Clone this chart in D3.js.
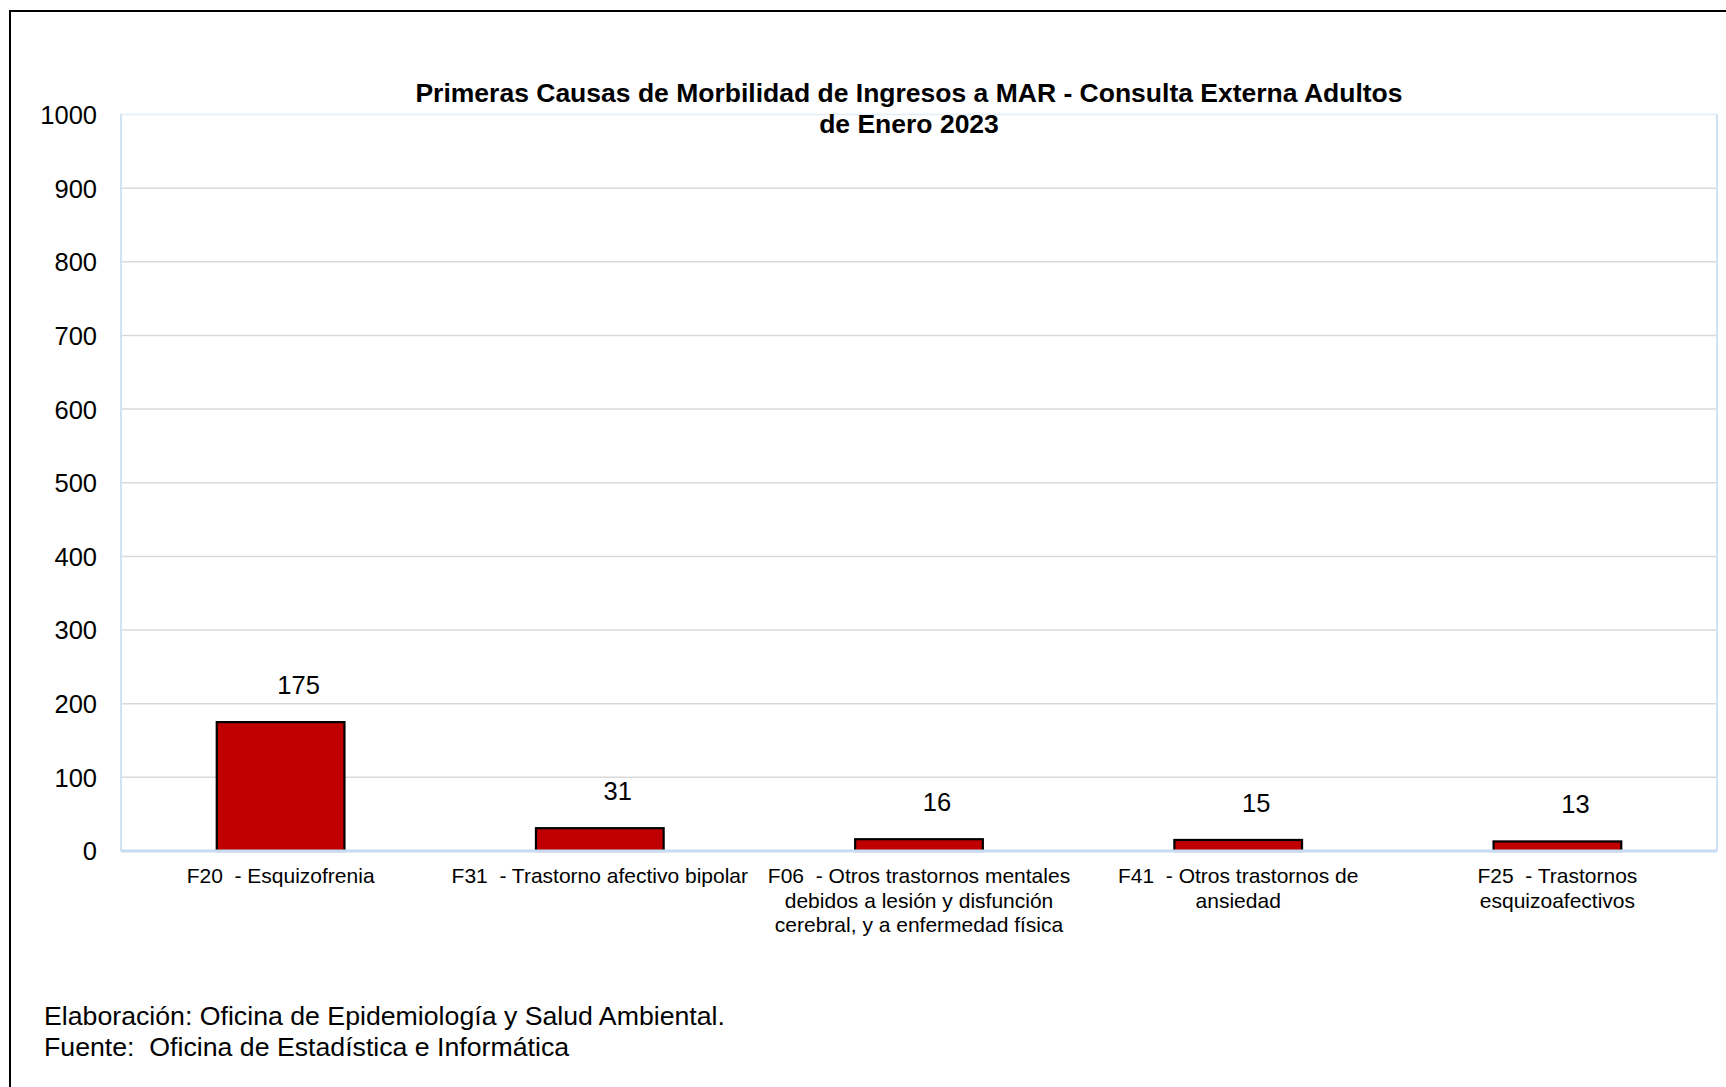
<!DOCTYPE html>
<html>
<head>
<meta charset="utf-8">
<script src="https://cdn.jsdelivr.net/npm/d3@7"></script>
<style>
  body { margin: 0; background: #fff; }
  text { font-family: "Liberation Sans", Arial, sans-serif; fill: #000; white-space: pre; }
</style>
</head>
<body>
<div id="chart-area"></div>
<script>
const W = 1726, H = 1087;
const margin = {top: 114.5, right: 9, bottom: 236, left: 121};

// data
const codes = ["F20", "F31", "F06", "F41", "F25"];
const labelLines = [
  ["F20  - Esquizofrenia"],
  ["F31  - Trastorno afectivo bipolar"],
  ["F06  - Otros trastornos mentales", "debidos a lesión y disfunción", "cerebral, y a enfermedad física"],
  ["F41  - Otros trastornos de", "ansiedad"],
  ["F25  - Trastornos", "esquizoafectivos"]
];
const values = [175, 31, 16, 15, 13];
const yTicks = [0, 100, 200, 300, 400, 500, 600, 700, 800, 900, 1000];
const titleLines = ["Primeras Causas de Morbilidad de Ingresos a MAR - Consulta Externa Adultos", "de Enero 2023"];
const footerLines = ["Elaboración: Oficina de Epidemiología y Salud Ambiental.", "Fuente:  Oficina de Estadística e Informática"];

var width = W - margin.left - margin.right;
var height = H - margin.top - margin.bottom;

var svg = d3.select("#chart-area").append("svg")
    .attr("width", W)
    .attr("height", H);

// outer frame (only left and top visible)
svg.append("path")
    .attr("d", "M10," + (H + 5) + " L10,11 L" + (W + 5) + ",11")
    .attr("fill", "none")
    .attr("stroke", "#000")
    .attr("stroke-width", 2);

var g = svg.append("g")
    .attr("transform", "translate(" + margin.left + "," + margin.top + ")");

var x = d3.scaleBand()
    .domain(codes)
    .range([0, width])
    .padding(0);

var y = d3.scaleLinear()
    .domain([0, 1000])
    .range([height, 0]);

// plot area border
g.append("rect")
    .attr("x", 0).attr("y", 0)
    .attr("width", width).attr("height", height)
    .attr("fill", "none")
    .attr("stroke", "#e3eef8")
    .attr("stroke-width", 1.5);
g.append("line")
    .attr("x1", 0).attr("x2", 0).attr("y1", 0).attr("y2", height)
    .attr("stroke", "#c7dcf0").attr("stroke-width", 1.5);
g.append("line")
    .attr("x1", width).attr("x2", width).attr("y1", 0).attr("y2", height)
    .attr("stroke", "#c7dcf0").attr("stroke-width", 1.5);

// gridlines
g.append("g")
    .selectAll("line")
    .data(yTicks.filter(d => d > 0 && d < 1000))
    .enter().append("line")
    .attr("x1", 1).attr("x2", width - 1)
    .attr("y1", d => y(d)).attr("y2", d => y(d))
    .attr("stroke", "#d9d9d9")
    .attr("stroke-width", 1.5);

// y axis labels
var yAxis = g.append("g")
    .call(d3.axisLeft(y).tickValues(yTicks).tickFormat(d3.format("d")).tickSize(0).tickPadding(24));
yAxis.select(".domain").remove();
yAxis.selectAll("text")
    .style("font-size", "25.5px")
    .attr("dy", "0.35em");

// bars
var barW = x.bandwidth() * 0.4;
g.append("g")
    .selectAll("rect")
    .data(values)
    .enter().append("rect")
    .attr("x", (d, i) => x(codes[i]) + x.bandwidth() / 2 - barW / 2)
    .attr("y", d => y(d))
    .attr("width", barW)
    .attr("height", d => height - y(d))
    .attr("fill", "#c00000")
    .attr("stroke", "#000")
    .attr("stroke-width", 2.2);

// baseline
g.append("line")
    .attr("x1", 0).attr("x2", width)
    .attr("y1", height).attr("y2", height)
    .attr("stroke", "#c7dcf0").attr("stroke-width", 3);

// value labels
g.append("g")
    .selectAll("text")
    .data(values)
    .enter().append("text")
    .attr("x", (d, i) => x(codes[i]) + x.bandwidth() / 2 + 18)
    .attr("y", d => y(d) - 37)
    .attr("dy", "0.35em")
    .attr("text-anchor", "middle")
    .style("font-size", "25.5px")
    .text(d => d);

// category labels
var cat = g.append("g")
    .selectAll("text")
    .data(labelLines)
    .enter().append("text")
    .attr("text-anchor", "middle")
    .style("font-size", "21px")
    .attr("transform", (d, i) => "translate(" + (x(codes[i]) + x.bandwidth() / 2) + "," + (height + 25) + ")");
cat.selectAll("tspan")
    .data(d => d)
    .enter().append("tspan")
    .attr("x", 0)
    .attr("y", (d, j) => j * 24.3)
    .attr("dy", "0.35em")
    .text(d => d);

// title
svg.append("g")
    .selectAll("text")
    .data(titleLines)
    .enter().append("text")
    .attr("x", 909)
    .attr("y", (d, i) => 93 + i * 31)
    .attr("dy", "0.35em")
    .attr("text-anchor", "middle")
    .style("font-size", "26.5px")
    .style("font-weight", "bold")
    .text(d => d);

// footer
svg.append("g")
    .selectAll("text")
    .data(footerLines)
    .enter().append("text")
    .attr("x", 44)
    .attr("y", (d, i) => 1016 + i * 31)
    .attr("dy", "0.35em")
    .style("font-size", "26.7px")
    .text(d => d);
</script>
</body>
</html>
